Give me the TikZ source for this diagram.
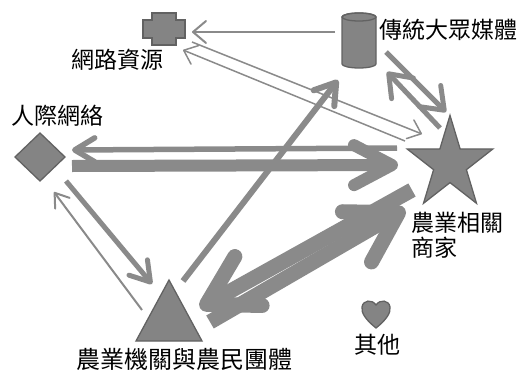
\documentclass[tikz,border=0pt]{standalone}
\usepackage{fontspec}
\newfontfamily\cjk{Noto Sans CJK TC}
\usetikzlibrary{arrows.meta}
\definecolor{arr}{RGB}{138,138,138}
\definecolor{shapefill}{RGB}{132,132,132}
\definecolor{shapeline}{RGB}{98,98,98}
\tikzset{
  shp/.style={fill=shapefill, draw=shapeline, line width=1.3pt, line join=miter},
  lbl/.style={inner sep=0pt, font=\cjk\fontsize{23}{25}\selectfont, text=black},
  con/.style n args={3}{draw=arr, line width=#1, line cap=butt,
      -{Straight Barb[round, length=#2, width=#3]}},
}
\begin{document}
\begin{tikzpicture}[x=1pt,y=-1pt]
\useasboundingbox (0,0) rectangle (521,372);
% ---- shapes ----
% cross (web resources)
\path[shp] (143,20) -- (152,20) -- (152,13) -- (176,13) -- (176,20) -- (185,20)
  -- (185,38) -- (176,38) -- (176,45) -- (152,45) -- (152,38) -- (143,38) -- cycle;
% cylinder (traditional media)
\path[shp] (342,17) -- (342,64) arc[start angle=180, end angle=360, x radius=17pt, y radius=4pt]
  -- (376,17) arc[start angle=0, end angle=180, x radius=17pt, y radius=4pt] -- cycle;
\draw[draw=shapeline, line width=1.3pt] (359,17) ellipse[x radius=17pt, y radius=4pt];
% diamond (interpersonal network)
\path[shp] (40,133) -- (65,157) -- (40,181) -- (15,157) -- cycle;
% star (agricultural businesses)
\path[shp] (450,115.4) -- (460.1,148.9) -- (492.8,149.0) -- (466.4,169.7) -- (476.5,203.3)
  -- (450,182.6) -- (423.5,203.3) -- (433.6,169.7) -- (407.2,149.0) -- (439.9,148.9) -- cycle;
% triangle (agencies and farmer groups)
\path[shp] (169,280) -- (202,341) -- (136,341) -- cycle;
% heart (others)
\path[shp] (376,328) .. controls (366,320) and (361,313) .. (362,307)
  .. controls (363,300) and (372,299) .. (376,305)
  .. controls (380,299) and (389,300) .. (390,307)
  .. controls (391,313) and (386,320) .. (376,328) -- cycle;
% ---- labels ----
\node[lbl] (lweb) at (117.5,60) {網路資源};
\node[lbl] (lppl) at (57,116) {人際網絡};
\node[lbl] (lmed) at (448,30) {傳統大眾媒體};
\node[lbl, align=left, anchor=west] (lbiz) at (411,235) {農業相關\\商家};
\node[lbl] (loth) at (377.5,345) {其他};
\node[lbl, font=\cjk\fontsize{24}{26}\selectfont] (lagr) at (184.5,359.5) {農業機關與農民團體};
% ---- connector end points ----
\coordinate (a1s) at (335,32);   \coordinate (a1e) at (192,32);
\coordinate (a2s) at (192,42);   \coordinate (a2e) at (422,134);
\coordinate (a3s) at (405,141);  \coordinate (a3e) at (183,50);
\coordinate (a4s) at (386,52);   \coordinate (a4e) at (446,112);
\coordinate (a5s) at (440,128);  \coordinate (a5e) at (387,72);
\coordinate (a6s) at (397,148);  \coordinate (a6e) at (72,150);
\coordinate (a7s) at (72,166);   \coordinate (a7e) at (398,165);
\coordinate (a8s) at (66,181);   \coordinate (a8e) at (152,284);
\coordinate (a9s) at (142,310);  \coordinate (a9e) at (54,192);
\coordinate (a10s) at (183,281); \coordinate (a10e) at (338,80);
\coordinate (a11s) at (412,190); \coordinate (a11e) at (200,308);
\coordinate (a12s) at (210,322); \coordinate (a12e) at (405,209);
% ---- connectors ----
\draw[con={2pt}{13pt}{22pt}] (a1s) -- (a1e);
\draw[con={1.5pt}{12pt}{20pt}] (a2s) -- (a2e);
\draw[con={1.5pt}{12pt}{20pt}] (a3s) -- (a3e);
\draw[con={5pt}{20pt}{30pt}] (a4s) -- (a4e);
\draw[con={5pt}{20pt}{30pt}] (a5s) -- (a5e);
\draw[con={5.5pt}{20pt}{24pt}] (a6s) -- (a6e);
\draw[con={12pt}{38pt}{40pt}] (a7s) -- (a7e);
\draw[con={5pt}{19pt}{24pt}] (a8s) -- (a8e);
\draw[con={2pt}{13pt}{18pt}] (a9s) -- (a9e);
\draw[con={6pt}{20pt}{26pt}] (a10s) -- (a10e);
\draw[con={15pt}{48pt}{56pt}] (a11s) -- (a11e);
\draw[con={15pt}{48pt}{58pt}] (a12s) -- (a12e);
\end{tikzpicture}
\end{document}
